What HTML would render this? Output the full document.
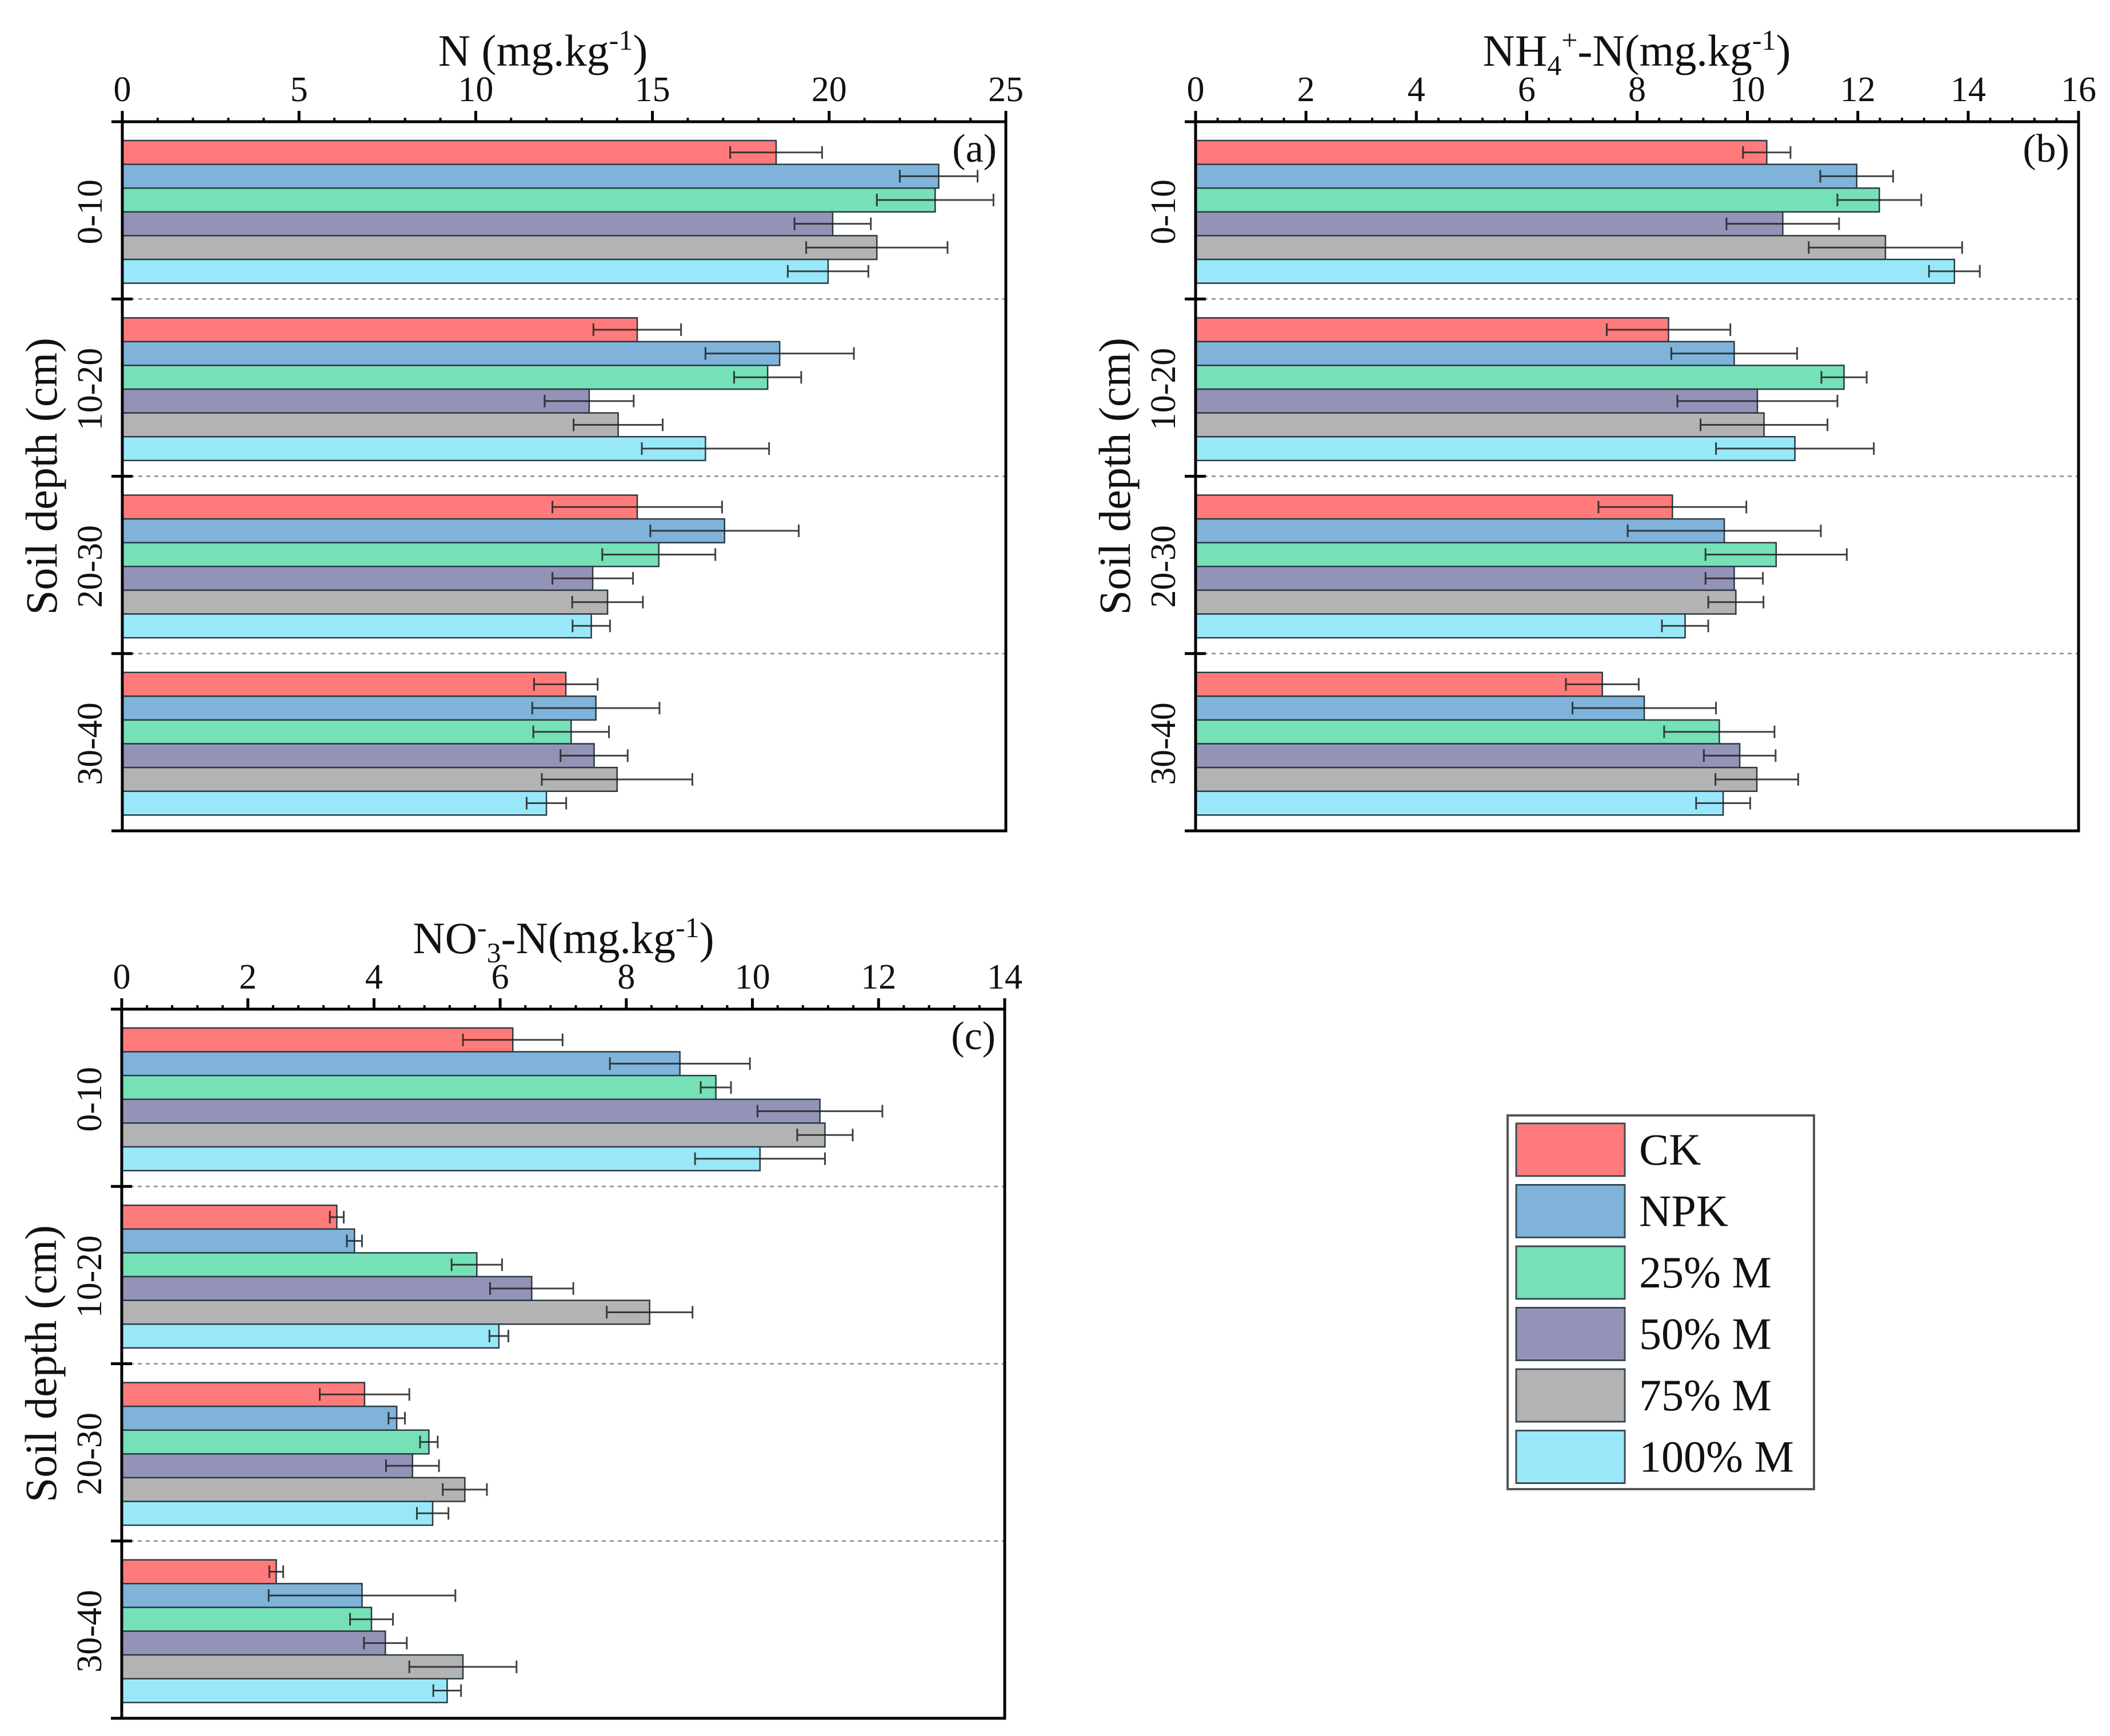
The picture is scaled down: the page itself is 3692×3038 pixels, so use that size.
<!DOCTYPE html>
<html><head><meta charset="utf-8">
<style>
html,body{margin:0;padding:0;background:#fff;}
svg{display:block;}
svg text{font-family:"Liberation Serif","DejaVu Serif",serif;}
</style></head>
<body>
<svg id="fig" width="3692" height="3038" viewBox="0 0 3692 3038" xmlns="http://www.w3.org/2000/svg" font-family="Liberation Serif, serif">
  <rect x="0" y="0" width="3692" height="3038" fill="#fff"/>
  <g id="panels"></g>
  <g id="legend">
    <rect x="2638" y="1952" width="536" height="654" fill="#fff" stroke="#555" stroke-width="4"/>
  </g>
</svg>
<script>
// ---- data ----
const depths = ["0-10", "10-20", "20-30", "30-40"];
const treatments = ["CK", "NPK", "25% M", "50% M", "75% M", "100% M"];
const colors = ["#ff7b7b", "#7fb3d9", "#76e0b6", "#9393b8", "#b3b3b3", "#99e8fa"];

const nValues = [
  [18.5, 23.1, 23.0, 20.1, 21.35, 19.97],
  [14.57, 18.6, 18.26, 13.21, 14.03, 16.5],
  [14.57, 17.04, 15.18, 13.31, 13.73, 13.27],
  [12.55, 13.4, 12.7, 13.35, 14.0, 12.0]
];
const nErrors = [
  [1.3, 1.1, 1.65, 1.08, 2.0, 1.14],
  [1.24, 2.1, 0.95, 1.26, 1.26, 1.8],
  [2.4, 2.1, 1.6, 1.14, 1.0, 0.53],
  [0.9, 1.8, 1.07, 0.95, 2.13, 0.56]
];
const nTicks = [0, 5, 10, 15, 20, 25];

const nhValues = [
  [10.35, 11.98, 12.39, 10.64, 12.5, 13.75],
  [8.57, 9.76, 11.75, 10.18, 10.3, 10.86],
  [8.64, 9.58, 10.52, 9.76, 9.79, 8.87],
  [7.37, 8.13, 9.49, 9.86, 10.17, 9.56]
];
const nhErrors = [
  [0.43, 0.66, 0.76, 1.02, 1.39, 0.46],
  [1.12, 1.14, 0.41, 1.45, 1.15, 1.43],
  [1.34, 1.75, 1.28, 0.52, 0.5, 0.42],
  [0.66, 1.3, 1.0, 0.65, 0.75, 0.49]
];
const nhTicks = [0, 2, 4, 6, 8, 10, 12, 14, 16];

const noValues = [
  [6.2, 8.85, 9.42, 11.07, 11.15, 10.12],
  [3.41, 3.69, 5.63, 6.5, 8.37, 5.98],
  [3.85, 4.36, 4.87, 4.61, 5.44, 4.93],
  [2.45, 3.81, 3.96, 4.18, 5.41, 5.16]
];
const noErrors = [
  [0.79, 1.11, 0.24, 0.99, 0.44, 1.03],
  [0.11, 0.12, 0.4, 0.66, 0.68, 0.15],
  [0.71, 0.13, 0.14, 0.42, 0.35, 0.25],
  [0.11, 1.48, 0.34, 0.34, 0.85, 0.22]
];
const noTicks = [0, 2, 4, 6, 8, 10, 12, 14];

// ---- drawing ----
const NS = "http://www.w3.org/2000/svg";
const FONT = "Liberation Serif, DejaVu Serif, serif";
const root = document.getElementById("panels");
function mk(tag, attrs, parent) {
  const e = document.createElementNS(NS, tag);
  for (const k in attrs) e.setAttribute(k, attrs[k]);
  if (tag === "text") e.setAttribute("font-family", FONT);
  parent.appendChild(e);
  return e;
}

function panel(cfg) {
  const g = mk("g", {}, root);
  
  
  const L = cfg.left, R = cfg.right, T = cfg.top, B = cfg.bottom;
  const max = cfg.ticks[cfg.ticks.length - 1];
  const x = v => L + (v / max) * (R - L);
  const gh = (B - T) / depths.length;
  const bh = 41.6, off = 33;

  depths.forEach((d, gi) => {
    const y0 = T + gi * gh;
    if (gi > 0) {
      const dl = mk("line", {x1: L, x2: R, y1: y0, y2: y0, stroke: "#888", "stroke-width": 2.5, "stroke-dasharray": "7 7"}, g);
      
      
    }
    const cy = y0 + off + bh * 3;
    const lab = mk("text", {x: 0, y: 0, transform: `translate(${L - 36},${cy}) rotate(-90)`, "text-anchor": "middle", "font-size": 62, fill: "#111"}, g);
    lab.textContent = d;
    
    

    treatments.forEach((t, ti) => {
      const v = cfg.values[gi][ti], e = cfg.errors[gi][ti];
      const by = y0 + off + ti * bh;
      const bar = mk("rect", {x: L, y: by, width: x(v) - L, height: bh, fill: colors[ti], stroke: "#2a3a44", "stroke-width": 2.5}, g);
      
      
      const cyb = by + bh / 2;
      const eg = mk("g", {stroke: "#222", "stroke-width": 3, opacity: 0.85}, g);
      
      
      mk("line", {x1: x(v - e), x2: x(v + e), y1: cyb, y2: cyb}, eg);
      mk("line", {x1: x(v - e), x2: x(v - e), y1: cyb - 11, y2: cyb + 11}, eg);
      mk("line", {x1: x(v + e), x2: x(v + e), y1: cyb - 11, y2: cyb + 11}, eg);
    });
  });

  const fr = mk("rect", {x: L, y: T, width: R - L, height: B - T, fill: "none", stroke: "#000", "stroke-width": 5}, g);
  
  

  for (let i = 0; i <= depths.length; i++) {
    const y0 = T + i * gh;
    const tk = mk("line", {x1: L - 19, x2: L + 18, y1: y0, y2: y0, stroke: "#000", "stroke-width": 5}, g);
    
    
  }

  const step = cfg.ticks[1] - cfg.ticks[0];
  for (let k = 0; k <= (cfg.ticks.length - 1) * 5; k++) {
    const v = k * step / 5;
    const major = k % 5 === 0;
    const tk = mk("line", {x1: x(v), x2: x(v), y1: T, y2: T - (major ? 19 : 7), stroke: "#000", "stroke-width": major ? 5 : 4}, g);
    
    
  }
  cfg.ticks.forEach(v => {
    const tl = mk("text", {x: x(v), y: T - 36, "text-anchor": "middle", "font-size": 62, fill: "#111"}, g);
    tl.textContent = v;
    
    
  });

  const tt = mk("text", {x: cfg.titleX, y: T - 98, "text-anchor": "middle", "font-size": 78, fill: "#111"}, g);
  tt.innerHTML = cfg.title;
  
  

  const yt = mk("text", {x: 0, y: 0, transform: `translate(${L - 115},${(T + B) / 2}) rotate(-90)`, "text-anchor": "middle", "font-size": 78, fill: "#111"}, g);
  yt.textContent = "Soil depth (cm)";
  
  

  const pl = mk("text", {x: R - 16, y: T + 70, "text-anchor": "end", "font-size": 70, fill: "#111"}, g);
  pl.textContent = cfg.letter;
  
  
}

panel({name: "panel-a-total-n", left: 214, right: 1760, top: 213, bottom: 1454, ticks: nTicks, values: nValues, errors: nErrors,
  titleX: 950, letter: "(a)",
  title: 'N (mg.kg<tspan dy="-28" font-size="50">-1</tspan><tspan dy="28">)</tspan>'});
panel({name: "panel-b-ammonium", left: 2092, right: 3637, top: 213, bottom: 1454, ticks: nhTicks, values: nhValues, errors: nhErrors,
  titleX: 2864, letter: "(b)",
  title: 'NH<tspan dy="16" font-size="50">4</tspan><tspan dy="-44" font-size="50">+</tspan><tspan dy="28">-N(mg.kg</tspan><tspan dy="-28" font-size="50">-1</tspan><tspan dy="28">)</tspan>'});
panel({name: "panel-c-nitrate", left: 213, right: 1758, top: 1766, bottom: 3007, ticks: noTicks, values: noValues, errors: noErrors,
  titleX: 986, letter: "(c)",
  title: 'NO<tspan dy="-28" font-size="50">-</tspan><tspan dy="44" font-size="50">3</tspan><tspan dy="-16">-N(mg.kg</tspan><tspan dy="-28" font-size="50">-1</tspan><tspan dy="28">)</tspan>'});

const lg = document.getElementById("legend");
treatments.forEach((t, i) => {
  const y = 1966 + i * 107.5;
  const sw = mk("rect", {x: 2653, y: y, width: 190, height: 92, fill: colors[i], stroke: "#3a4a55", "stroke-width": 3}, lg);
  
  
  const tx = mk("text", {x: 2868, y: y + 72, "font-size": 78, fill: "#111"}, lg);
  tx.textContent = t;
  
  
});
</script>
</body></html>
